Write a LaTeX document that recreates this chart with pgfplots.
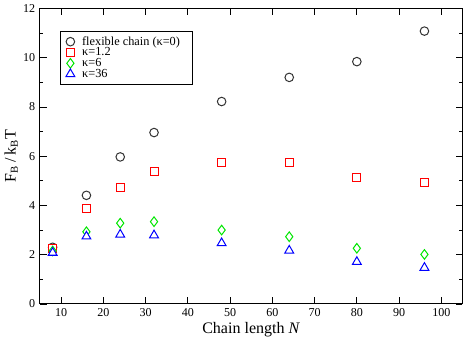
\documentclass[border=0pt]{standalone}
\usepackage{fontspec}
\setmainfont{Liberation Serif}
\usepackage{pgfplots}
\pgfplotsset{compat=1.18}
\definecolor{ngreen}{RGB}{0,230,0}
\definecolor{nred}{RGB}{255,0,0}

\begin{document}
\begin{tikzpicture}
\begin{axis}[
  scale only axis,
  width=316pt, height=221pt,
  xmin=5, xmax=105, ymin=0, ymax=12,
  xtick={10,20,...,100}, ytick={0,2,...,12},
  minor y tick num=1,
  tick align=inside,
  major tick length=5pt, minor tick length=2.5pt,
  tick style={black, line width=0.6pt},
  axis line style={line width=0.8pt},
  /pgf/number format/assume math mode=true,
  tick label style={font=\fontsize{9}{10}\selectfont},
  xlabel={Chain length \textit{N}},
  ylabel={F\textsubscript{B}\,/\,k\textsubscript{B}T},
  label style={font=\fontsize{12}{13}\selectfont},
  xlabel style={yshift=3pt},
  ylabel style={yshift=-3pt},
  legend style={at={(0.048,0.925)}, anchor=north west, draw=black, line width=0.6pt,
    font=\fontsize{9.2}{9.5}\selectfont, row sep=-3.6pt,
    inner xsep=4pt, inner ysep=2pt,
    nodes={inner xsep=5.5pt}},
  legend image code/.code={\draw[#1] plot coordinates {(0.25cm,0cm)};},
  legend cell align=left,
]
\addplot[only marks, mark=*, mark size=3.2pt, black!80,
  mark options={draw=black!80, fill=white, line width=0.75pt}] coordinates {
  (8,2.30) (16,4.41) (24,5.97) (32,6.96) (48,8.22) (64,9.20) (80,9.84) (96,11.08)
};
\addlegendentry{flexible chain (κ=0)}
\addplot[only marks, mark=square*, mark size=3pt, nred,
  mark options={draw=nred, fill=white, line width=0.75pt}] coordinates {
  (8,2.25) (16,3.88) (24,4.72) (32,5.36) (48,5.73) (64,5.73) (80,5.12) (96,4.93)
};
\addlegendentry{κ=1.2}
\addplot[only marks, mark=diamond*, mark size=3.6pt, ngreen,
  mark options={draw=ngreen, fill=white, line width=0.75pt}] coordinates {
  (8,2.15) (16,2.93) (24,3.28) (32,3.34) (48,3.00) (64,2.73) (80,2.26) (96,2.01)
};
\addlegendentry{κ=6}
\addplot[only marks, mark=triangle*, mark size=3.8pt, blue,
  mark options={draw=blue, fill=white, line width=0.75pt}] coordinates {
  (8,2.08) (16,2.74) (24,2.82) (32,2.79) (48,2.47) (64,2.17) (80,1.71) (96,1.47)
};
\addlegendentry{κ=36}
\end{axis}
\end{tikzpicture}
\end{document}
